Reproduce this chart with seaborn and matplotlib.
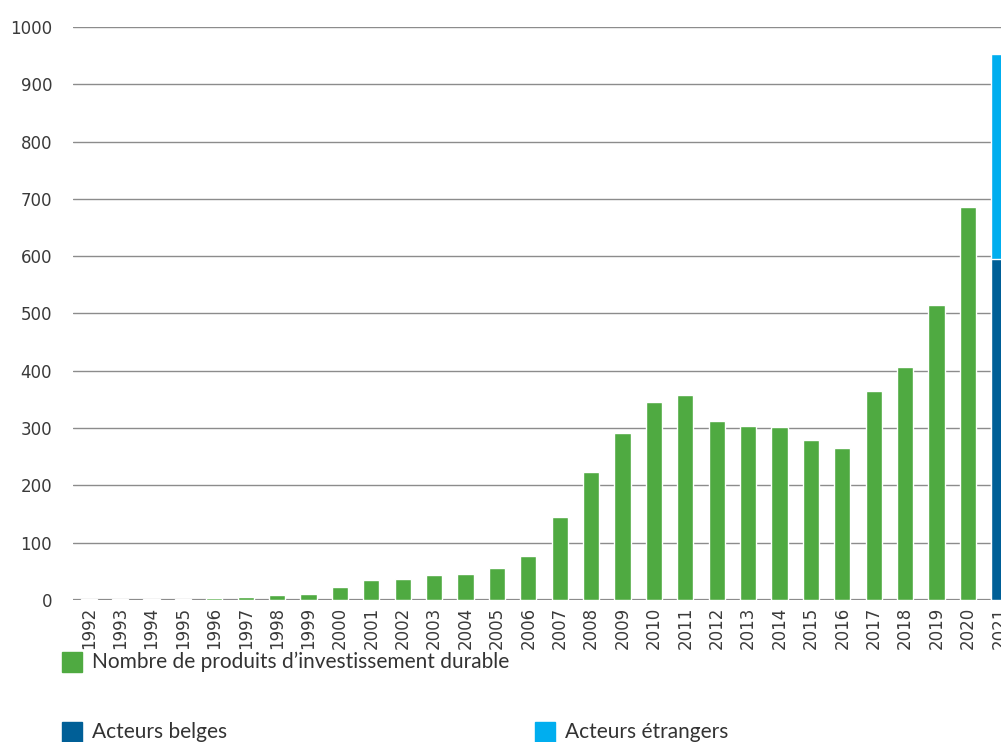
import matplotlib
matplotlib.use('Agg')
import matplotlib.pyplot as plt
import matplotlib.patches as mpatches
import seaborn as sns
import pandas as pd

# Data
years = [str(y) for y in range(1992, 2022)]
produits = [2, 2, 2, 2, 4, 6, 9, 11, 23, 35, 37, 43, 46, 55, 76, 145, 224,
            292, 346, 358, 313, 304, 302, 280, 266, 364, 406, 514, 686]
belges_2021 = [595]
etrangers_2021 = [358]

green = '#4faa41'
dark_blue = '#005f97'
light_blue = '#00aeef'

sns.set_style('white')
plt.rcParams['font.family'] = ['DejaVu Sans']

fig = plt.figure(figsize=(10.01, 7.42), dpi=100)
ax = fig.add_axes([73 / 1001, (742 - 600) / 742, 942 / 1001, 573 / 742])

df_green = pd.DataFrame({'year': years[:-1], 'n': produits})
sns.barplot(data=df_green, x='year', y='n', order=years, color=green,
            saturation=1, width=0.51, errorbar=None, ax=ax, zorder=3)

total_2021 = [b + e for b, e in zip(belges_2021, etrangers_2021)]
sns.barplot(x=['2021'], y=total_2021, order=years, color=light_blue,
            saturation=1, width=0.51, errorbar=None, ax=ax, zorder=3)
sns.barplot(x=['2021'], y=belges_2021, order=years, color=dark_blue,
            saturation=1, width=0.51, errorbar=None, ax=ax, zorder=3)

ax.set_xlim(-0.5, 29.5)
ax.set_ylim(0, 1000)
ax.set_yticks(range(0, 1001, 100))
ax.set_xlabel('')
ax.set_ylabel('')
ax.yaxis.grid(True, color='#8c8c8c', linewidth=1, zorder=1)
ax.set_axisbelow(True)
for s in ax.spines.values():
    s.set_visible(False)
ax.axhline(0, color='#8c8c8c', linewidth=1.6, zorder=2)

ax.tick_params(axis='y', length=0, pad=15, labelsize=12, labelcolor='#3a3a3a')
ax.tick_params(axis='x', length=0, pad=5, labelsize=12, labelcolor='#3a3a3a',
               labelrotation=90)

# Legend
leg_font = {'family': ['DejaVu Sans Condensed', 'Liberation Sans Narrow', 'Lato'],
            'size': 15}
entries = [
    (green, 'Nombre de produits d\u2019investissement durable', 62, 662),
    (dark_blue, 'Acteurs belges', 62, 732),
    (light_blue, 'Acteurs \u00e9trangers', 535, 732),
]
for col, label, px, py in entries:
    fig.patches.append(mpatches.Rectangle((px / 1001, 1 - (py + 10) / 742),
                                          20 / 1001, 20 / 742, color=col,
                                          transform=fig.transFigure))
    fig.text((px + 30) / 1001, 1 - py / 742, label, va='center', ha='left',
             color='#333333', fontdict=leg_font)

fig.savefig('out.png', dpi=100)
